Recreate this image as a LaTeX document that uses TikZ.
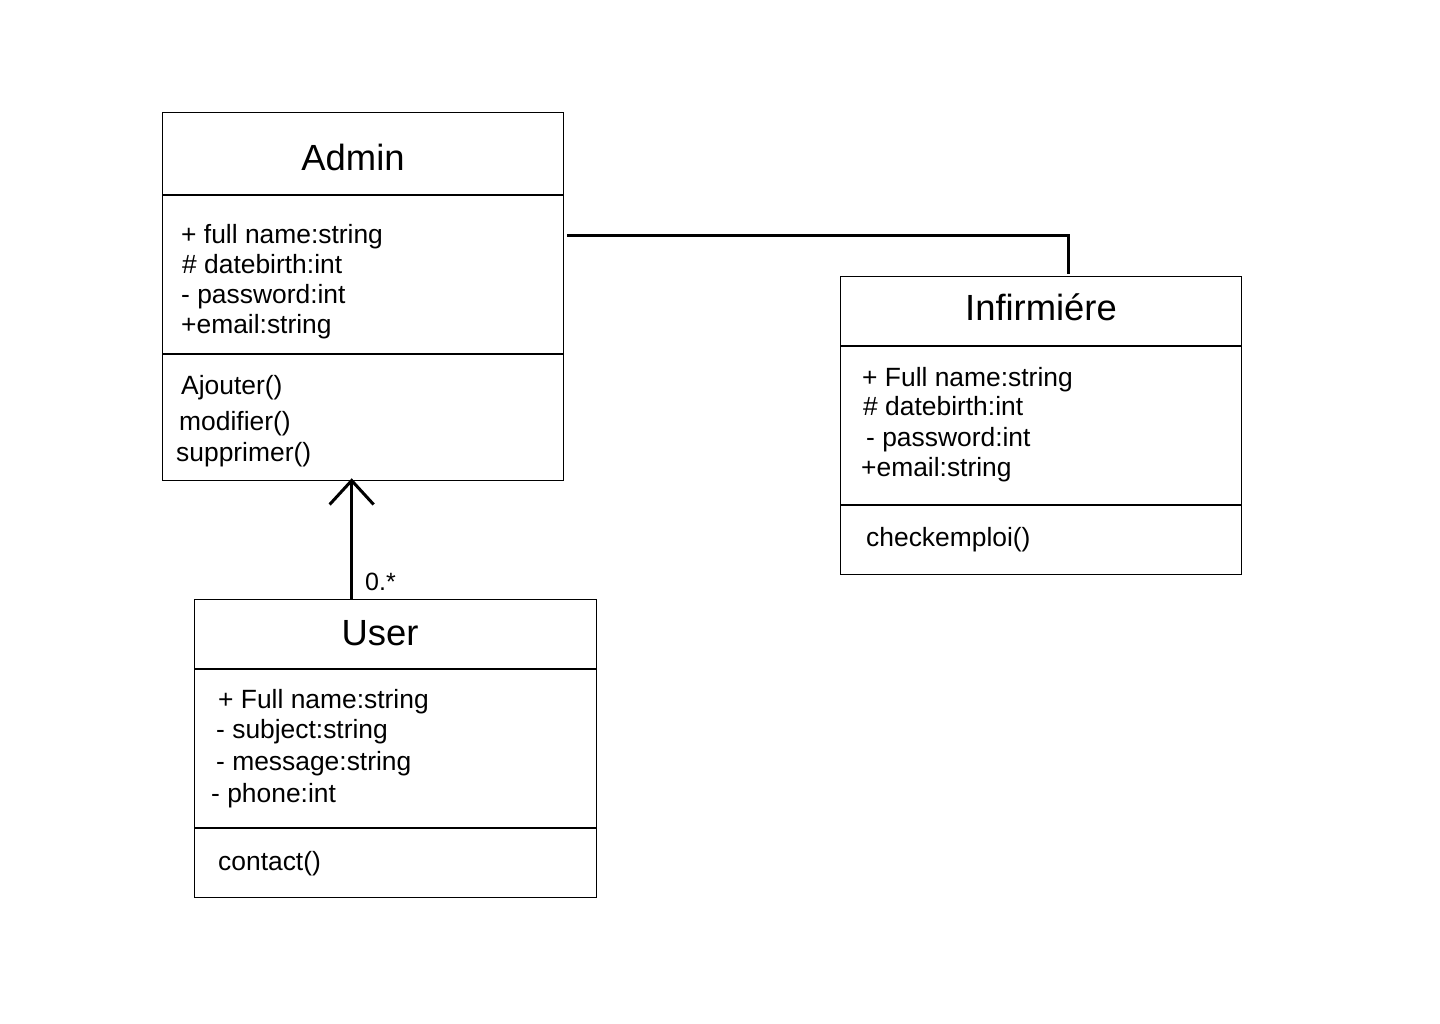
\documentclass[tikz,border=0pt]{standalone}
\usepackage{fontspec}
\setmainfont{Liberation Sans}
\usetikzlibrary{arrows.meta}
\begin{document}
\begin{tikzpicture}[x=1pt,y=-1pt,
  cls/.style={draw=black, line width=1.3pt, inner sep=0pt, anchor=north west},
  ttl/.style={font=\fontsize{36.4}{40}\selectfont, inner sep=0pt},
  txt/.style={font=\fontsize{26.4}{30}\selectfont, anchor=base west, inner sep=0pt},
  sep/.style={line width=1.3pt},
  conn/.style={line width=3pt}]
\fill[white] (0,0) rectangle (1440,1024);
\useasboundingbox (0,0) rectangle (1440,1024);

% Admin
\node[cls, minimum width=401pt, minimum height=368pt] (admin) at (162,112) {};
\draw[sep] (admin.west |- 0,195) -- (admin.east |- 0,195);
\draw[sep] (admin.west |- 0,354) -- (admin.east |- 0,354);
\node[ttl] (admintitle) at (353,157) {Admin};
\node[txt] (a1) at (181,244) {+ full name:string};
\node[txt] (a2) at (182,274) {\# datebirth:int};
\node[txt] (a3) at (181,304) {- password:int};
\node[txt] (a4) at (181,334) {+email:string};
\node[txt] (am1) at (181,394) {Ajouter()};
\node[txt] (am2) at (179,430) {modifier()};
\node[txt] (am3) at (176,461) {supprimer()};

% Infirmiere
\node[cls, minimum width=401pt, minimum height=298pt] (inf) at (840,276) {};
\draw[sep] (inf.west |- 0,346) -- (inf.east |- 0,346);
\draw[sep] (inf.west |- 0,505) -- (inf.east |- 0,505);
\node[ttl] (inftitle) at (1041,307) {Infirmiére};
\node[txt] (i1) at (862,386) {+ Full name:string};
\node[txt] (i2) at (863,415) {\# datebirth:int};
\node[txt] (i3) at (866,446) {- password:int};
\node[txt] (i4) at (861,476) {+email:string};
\node[txt] (im1) at (866,546) {checkemploi()};

% User
\node[cls, minimum width=402pt, minimum height=298pt] (user) at (194,599) {};
\draw[sep] (user.west |- 0,669) -- (user.east |- 0,669);
\draw[sep] (user.west |- 0,828) -- (user.east |- 0,828);
\node[ttl] (usertitle) at (380,633) {User};
\node[txt] (u1) at (218,708) {+ Full name:string};
\node[txt] (u2) at (216,738) {- subject:string};
\node[txt] (u3) at (216,770) {- message:string};
\node[txt] (u4) at (211,802) {- phone:int};
\node[txt] (um1) at (218,870) {contact()};

% connectors
\coordinate (astart) at ([shift={(3,124)}]admin.north east);
\draw[conn] (astart) -| ([shift={(27.5,-2)}]inf.north);

\coordinate (ufrom) at ([xshift=-44pt]user.north);
\draw[conn, -{Straight Barb[length=24pt, width=44pt, line width=3pt]}, shorten >=-3pt] (ufrom) -- (ufrom |- admin.south);
\node[txt, font=\fontsize{25}{28}\selectfont] (mult) at (365,590) {0.*};
\end{tikzpicture}
\end{document}
